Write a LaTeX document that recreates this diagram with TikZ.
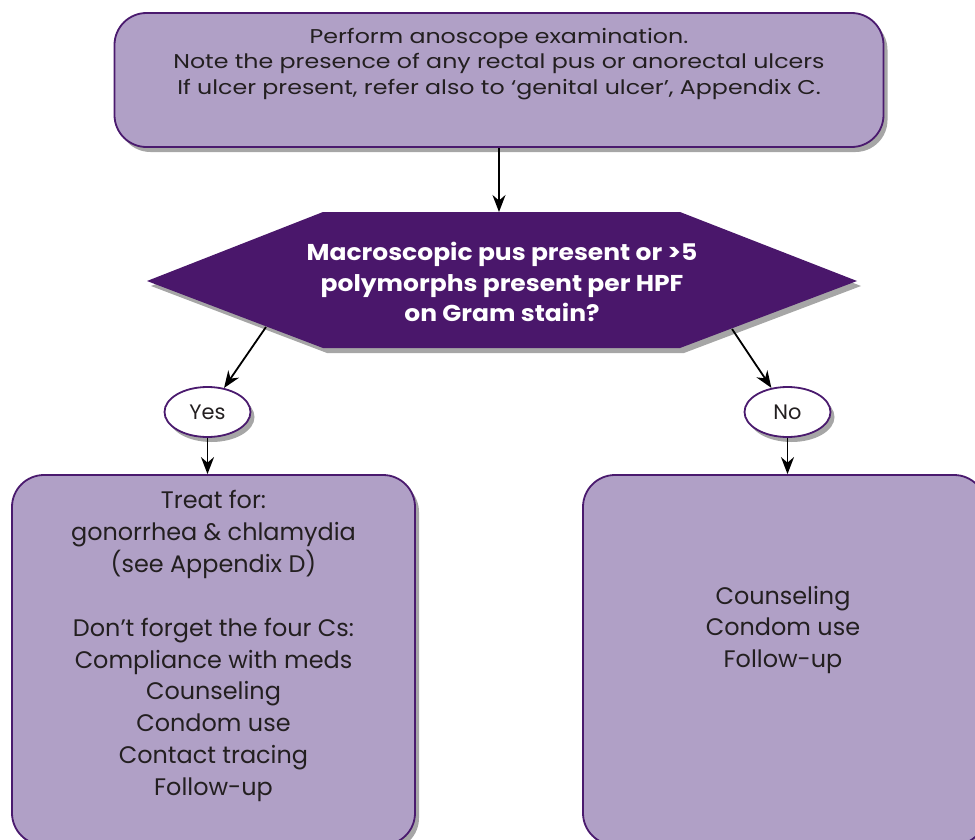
\documentclass[tikz,border=0pt]{standalone}
\usepackage{fontspec}
\setmainfont{Poppins}
\usetikzlibrary{shapes.geometric,shadows,arrows.meta}
\definecolor{boxfill}{HTML}{B0A0C6}
\definecolor{boxline}{HTML}{4A1A6E}
\definecolor{hexfill}{HTML}{4A176B}
\definecolor{txt}{HTML}{231F20}
\begin{document}
\begin{tikzpicture}[x=1bp,y=-1bp,
  shad/.style={drop shadow={shadow xshift=4bp,shadow yshift=-5bp,fill=black,opacity=.35}},
  box/.style={draw=boxline,line width=1.8bp,fill=boxfill,rounded corners=32bp,shad},
  lbl/.style={ellipse,draw=boxline,line width=1.8bp,fill=white,minimum width=86bp,minimum height=50bp,inner sep=0pt,shad,font=\fontsize{21}{25}\selectfont,text=txt},
  arr/.style={-{Stealth[length=17bp,width=13bp]},line width=1.8bp,black},
  toptxt/.style={align=center,text=txt,font=\fontsize{20}{26}\selectfont\addfontfeature{FakeStretch=1.19}},
  bottxt/.style={align=center,text=txt,font=\fontsize{24}{32}\selectfont},
  hextxt/.style={align=center,text=white,font=\bfseries\fontsize{23}{31}\selectfont\addfontfeature{FakeStretch=1.09}}
  ]
\useasboundingbox (0,0) rectangle (975,840);
% top box
\node[box,minimum width=769bp,minimum height=134bp] (top) at (499,80) {};
\node[toptxt] (toptext) at (499,64) {Perform anoscope examination.\\Note the presence of any rectal pus or anorectal ulcers\\If ulcer present, refer also to ‘genital ulcer’, Appendix C.};
% hexagon
\path[fill=hexfill,shad] (147,281) -- (323,212) -- (680,212) -- (857,281) -- (680,348) -- (323,348) -- cycle;
\node[hextxt] (q) at (502,282) {Macroscopic pus present or >5\\polymorphs present per HPF\\on Gram stain?};
\coordinate (qs) at (499,212);
\coordinate (ql) at (266,327);
\coordinate (qr) at (732,329);
% labels
\node[lbl] (yes) at (207.5,412) {Yes};
\node[lbl] (no) at (787.5,412) {No};
% bottom boxes
\node[box,minimum width=403bp,minimum height=370bp] (lbox) at (213.5,660) {};
\node[box,minimum width=403bp,minimum height=370bp] (rbox) at (784.5,660) {};
\node[bottxt] (ltext) at (213.5,646) {Treat for:\\gonorrhea \& chlamydia\\(see Appendix D)\\[32bp]Don’t forget the four Cs:\\Compliance with meds\\Counseling\\Condom use\\Contact tracing\\Follow-up};
\node[bottxt] (rtext) at (783,630) {Counseling\\Condom use\\Follow-up};
% connectors
\draw[arr] (top.south -| qs) -- (qs);
\draw[arr] (ql) -- (yes);
\draw[arr] (qr) -- (no);
\draw[arr] (yes) -- (lbox.north -| yes);
\draw[arr] (no) -- (rbox.north -| no);
\end{tikzpicture}
\end{document}
